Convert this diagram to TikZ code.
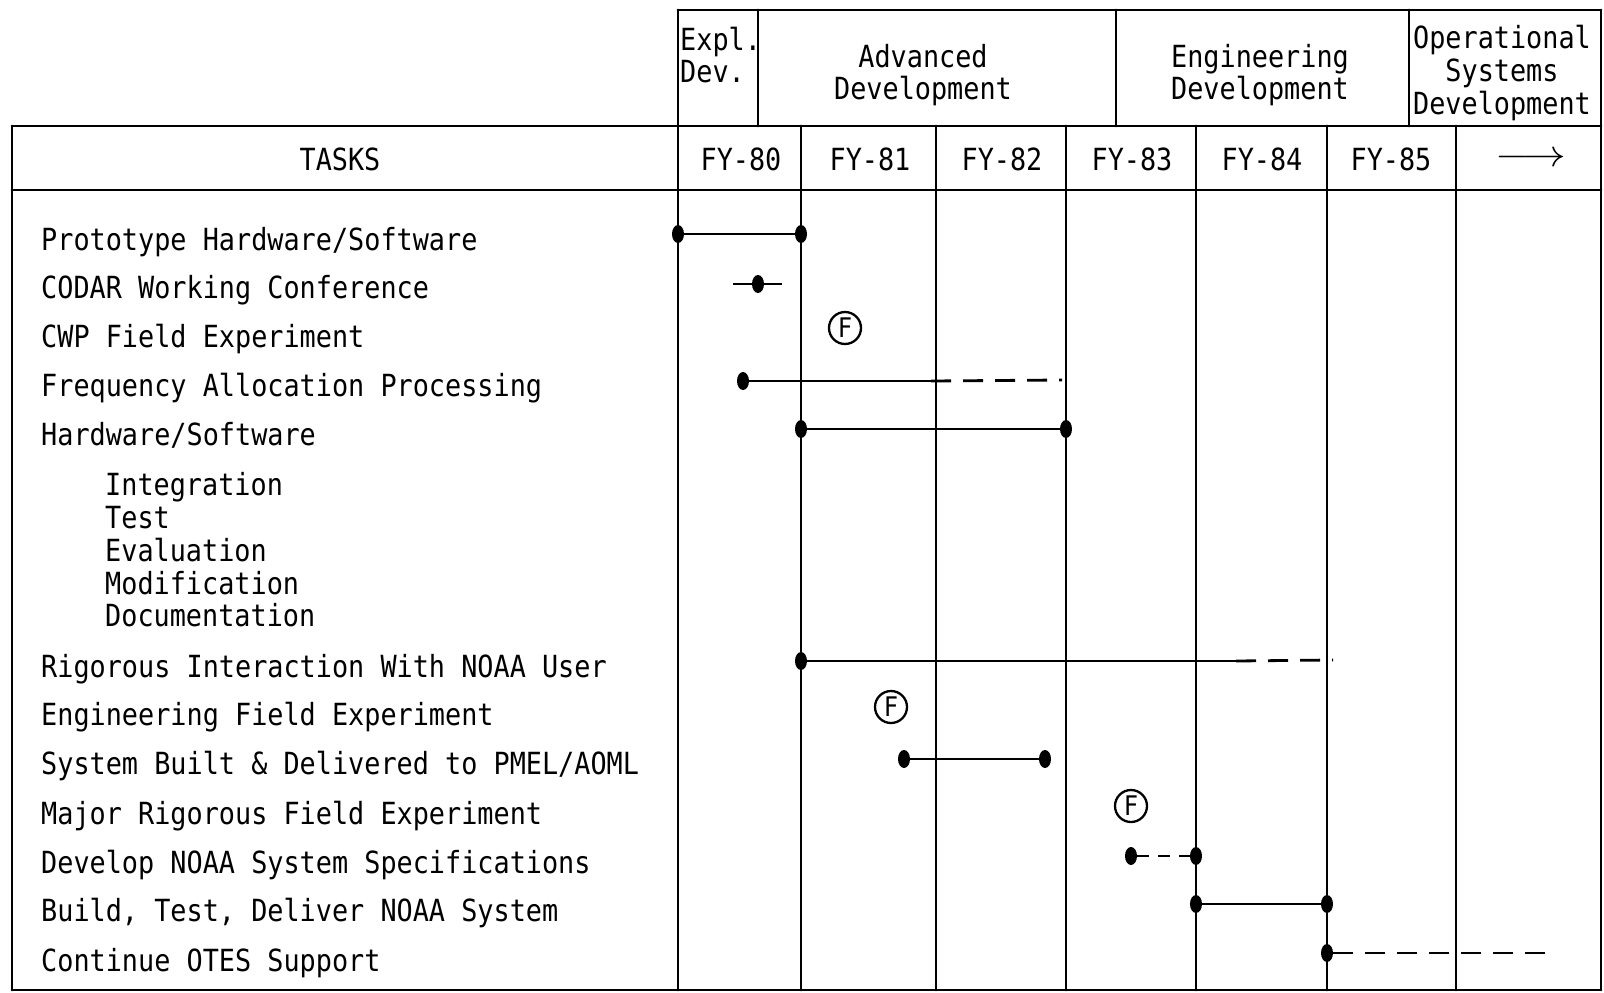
\RequirePackage{fix-cm}
\documentclass[tikz,border=0pt]{standalone}
\usepackage{fontspec}
\usetikzlibrary{shapes.geometric}
\newfontfamily\tw[FakeStretch=0.88]{DejaVu Sans Mono}
\begin{document}
\begin{tikzpicture}[x=1pt,y=-1pt,
  grid/.style={line width=2.9pt, line cap=round},
  lbl/.style={font=\tw\fontsize{30.5}{32.7}\selectfont, inner sep=0pt, anchor=west, text height=22pt, text depth=0pt},
  hdr/.style={font=\tw\fontsize{30.5}{32.7}\selectfont, inner sep=0pt, align=center},
  dot/.style={ellipse, fill=black, minimum width=12pt, minimum height=18pt, inner sep=0pt},
  bar/.style={line width=2.8pt},
  dbar/.style={line width=2.8pt, dash pattern=on 20pt off 12pt},
  fmark/.style={circle, draw, line width=2.3pt, minimum size=32pt, inner sep=0pt, font=\tw\fontsize{27}{27}\selectfont}]
\useasboundingbox (0,0) rectangle (1604,993);
% ---- table frame ----
\draw[grid] (678,10) -- (1601,10);
\draw[grid] (12,126) -- (1601,126);
\draw[grid] (12,190) -- (1601,190);
\draw[grid] (12,990) -- (1601,990);
\draw[grid] (12,126) -- (12,990);
\draw[grid] (678,10) -- (678,990);
\draw[grid] (1601,10) -- (1601,990);
\foreach \x in {758,1116,1409} \draw[grid] (\x,10) -- (\x,126);
\foreach \x in {801,936,1066,1196,1327,1456} \draw[grid] (\x,126) -- (\x,990);
% ---- header ----
\node[hdr, align=left, anchor=west] (h1) at (680,55) {Expl.\\Dev.};
\node[hdr] (h2) at (923,75) {Advanced\\Development};
\node[hdr] (h3) at (1260,75) {Engineering\\Development};
\node[hdr] (h4) at (1502,73) {Operational\\Systems\\Development};
\node[hdr] (tasks) at (340,159) {TASKS};
\node[hdr] (fy80) at (741,159) {FY-80};
\node[hdr] (fy81) at (870,159) {FY-81};
\node[hdr] (fy82) at (1002,159) {FY-82};
\node[hdr] (fy83) at (1132,159) {FY-83};
\node[hdr] (fy84) at (1262,159) {FY-84};
\node[hdr] (fy85) at (1391,159) {FY-85};
\node[inner sep=0pt, font=\fontsize{38}{38}\selectfont] (more) at (1531,160) {\scalebox{1.15}[1]{$\longrightarrow$}};
% ---- task labels ----
\node[lbl] (t1) at (41,239) {Prototype Hardware/Software};
\node[lbl] (t2) at (41,287) {CODAR Working Conference};
\node[lbl] (t3) at (41,336) {CWP Field Experiment};
\node[lbl] (t4) at (41,385) {Frequency Allocation Processing};
\node[lbl] (t5) at (41,434) {Hardware/Software};
\node[lbl] (s1) at (105,484) {Integration};
\node[lbl] (s2) at (105,517) {Test};
\node[lbl] (s3) at (105,550) {Evaluation};
\node[lbl] (s4) at (105,583) {Modification};
\node[lbl] (s5) at (105,615) {Documentation};
\node[lbl] (t6) at (41,666) {Rigorous Interaction With NOAA User};
\node[lbl] (t7) at (41,714) {Engineering Field Experiment};
\node[lbl] (t8) at (41,763) {System Built \& Delivered to PMEL/AOML};
\node[lbl] (t9) at (41,813) {Major Rigorous Field Experiment};
\node[lbl] (t10) at (41,862) {Develop NOAA System Specifications};
\node[lbl] (t11) at (41,910) {Build, Test, Deliver NOAA System};
\node[lbl] (t12) at (41,960) {Continue OTES Support};
% ---- schedule bars ----
\node[dot] (p1) at (678,234) {};
\node[dot] (p2) at (801,234) {};
\draw[bar] (p1) -- (p2);
\coordinate (c0) at (733,284);
\node[dot] (c1) at (758,284) {};
\coordinate (c2) at (782,284);
\draw[bar] (c0) -- (c1) -- (c2);
\node[fmark] (f1) at (845,328) {F};
\node[dot] (fr1) at (743,381) {};
\coordinate (fr2) at (931,381);
\coordinate (fr3) at (1062,380);
\draw[bar] (fr1) -- (fr2);
\draw[dbar] (fr2) -- (fr3);
\node[dot] (hw1) at (801,429) {};
\node[dot] (hw2) at (1066,429) {};
\draw[bar] (hw1) -- (hw2);
\node[dot] (ri1) at (801,661) {};
\coordinate (ri2) at (1236,661);
\coordinate (ri3) at (1333,660);
\draw[bar] (ri1) -- (ri2);
\draw[dbar] (ri2) -- (ri3);
\node[fmark] (f2) at (891,707) {F};
\node[dot] (sb1) at (904,759) {};
\node[dot] (sb2) at (1045,759) {};
\draw[bar] (sb1) -- (sb2);
\node[fmark] (f3) at (1131,806) {F};
\node[dot] (ds1) at (1131,856) {};
\node[dot] (ds2) at (1196,856) {};
\draw[bar, dash pattern=on 12pt off 9pt] (ds1) -- (ds2);
\node[dot] (bt1) at (1196,904) {};
\node[dot] (bt2) at (1327,904) {};
\draw[bar] (bt1) -- (bt2);
\node[dot] (co1) at (1327,953) {};
\coordinate (co2) at (1548,953);
\draw[dbar] (co1) -- (co2);
\end{tikzpicture}
\end{document}
